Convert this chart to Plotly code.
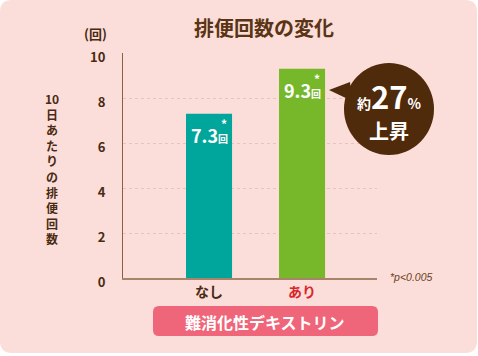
import plotly.graph_objects as go

categories = ["なし", "あり"]
values = [7.3, 9.3]
bar_colors = ["#00a59b", "#77b82a"]
tick_colors = ["#4a2a12", "#d9262c"]
y_ticks = [0, 2, 4, 6, 8, 10]
title_text = "排便回数の変化"
y_title = "10日あたりの排便回数"
unit_text = "(回)"
group_label = "難消化性デキストリン"
footnote = "*p&lt;0.005"
bubble_pct = "27"

W, H = 478, 356
L, R, T, B = 123, 377, 53, 278
FONT = "Noto Sans CJK JP"
BROWN = "#4a2a12"


def px(x):
    return (x - L) / (R - L)


def py(y):
    return (B - y) / (B - T)


def P(x, y):
    return f"{px(x):.5f},{py(y):.5f}"


def rrect(x0, y0, x1, y1, r):
    return (f"M {P(x0 + r, y0)} L {P(x1 - r, y0)} Q {P(x1, y0)} {P(x1, y0 + r)} "
            f"L {P(x1, y1 - r)} Q {P(x1, y1)} {P(x1 - r, y1)} L {P(x0 + r, y1)} "
            f"Q {P(x0, y1)} {P(x0, y1 - r)} L {P(x0, y0 + r)} Q {P(x0, y0)} {P(x0 + r, y0)} Z")


def note(x, y, text, size, color, family=FONT, xanchor="center"):
    return dict(x=px(x), y=py(y), xref="paper", yref="paper", showarrow=False,
                xanchor=xanchor, yanchor="middle", text=text,
                font=dict(family=family, size=size, color=color))


xs = list(range(len(categories)))
fig = go.Figure(go.Bar(x=xs, y=values, marker=dict(color=bar_colors, line=dict(width=0)),
                       width=0.495, hoverinfo="skip"))

shapes = [
    dict(type="path", xref="paper", yref="paper", path=rrect(0, 0, 477, 353, 12),
         fillcolor="#fbded9", line=dict(width=0), layer="below"),
    dict(type="path", xref="paper", yref="paper", path=rrect(153, 306, 378, 336, 6),
         fillcolor="#ef6579", line=dict(width=0)),
    dict(type="circle", xref="paper", yref="paper", x0=px(344), x1=px(434), y0=py(155), y1=py(63),
         fillcolor="#4f2a0b", line=dict(width=0)),
    dict(type="path", xref="paper", yref="paper",
         path=f"M {P(329, 90)} L {P(350, 82)} L {P(352, 101)} Z",
         fillcolor="#4f2a0b", line=dict(width=0)),
]

ann = []
for i, v in enumerate(values):
    ann.append(dict(x=i, y=v, xref="x", yref="y", yshift=-21, showarrow=False,
                    xanchor="center", yanchor="middle",
                    text=f"<b>{v:.1f}</b><b><span style='font-size:10px'>回</span></b>",
                    font=dict(family=FONT, size=18, color="white")))
    ann.append(dict(x=i, y=v, xref="x", yref="y", yshift=-10, xshift=15, showarrow=False,
                    xanchor="center", yanchor="middle",
                    text="<b>*</b>", font=dict(family=FONT, size=12, color="white")))

bubble_text = ("<b><span style='font-size:14px'>約</span>"
               f"<span style='font-size:31px'>{bubble_pct}</span>"
               "<span style='font-size:14px'>%</span><br>"
               "<span style='font-size:20px'>上昇</span></b>")

ann += [
    note(264, 28, f"<b>{title_text}</b>", 20, "#5a3415"),
    note(95, 33, f"<b>{unit_text}</b>", 13, BROWN),
    note(52, 168, "<b>" + "<br>".join(["10"] + list(y_title[2:])) + "</b>", 12, BROWN),
    note(388, 277, f"<i>{footnote}</i>", 10.5, "#6b4020", family="Liberation Sans", xanchor="left"),
    note(265, 322, f"<b>{group_label}</b>", 16, "white"),
    note(389, 109, bubble_text, 23, "white"),
]

fig.update_layout(
    width=W, height=H,
    margin=dict(l=L, r=W - R, t=T, b=H - B),
    paper_bgcolor="white", plot_bgcolor="rgba(0,0,0,0)",
    showlegend=False, shapes=shapes, annotations=ann,
    xaxis=dict(range=[-0.925, 1.806], tickvals=xs,
               ticktext=[f"<b><span style='color:{c}'>{t}</span></b>" for t, c in zip(categories, tick_colors)],
               showgrid=False, zeroline=False, showline=True, linecolor="#a8846a", linewidth=2,
               tickfont=dict(family=FONT, size=14), fixedrange=True),
    yaxis=dict(range=[0, 10], tickvals=y_ticks, ticktext=[f"<b>{t}</b>" for t in y_ticks],
               showgrid=True, gridcolor="#e6c3bc", griddash="3px,3px", gridwidth=1,
               zeroline=False, showline=True, linecolor="#8a6040", linewidth=1,
               ticklabelstandoff=14, ticklabelshift=4,
               tickfont=dict(family=FONT, size=13, color=BROWN), fixedrange=True),
)

fig.write_html("out.html", config={"staticPlot": True},
               post_script="document.body.style.margin='0';document.body.style.overflow='hidden';")
